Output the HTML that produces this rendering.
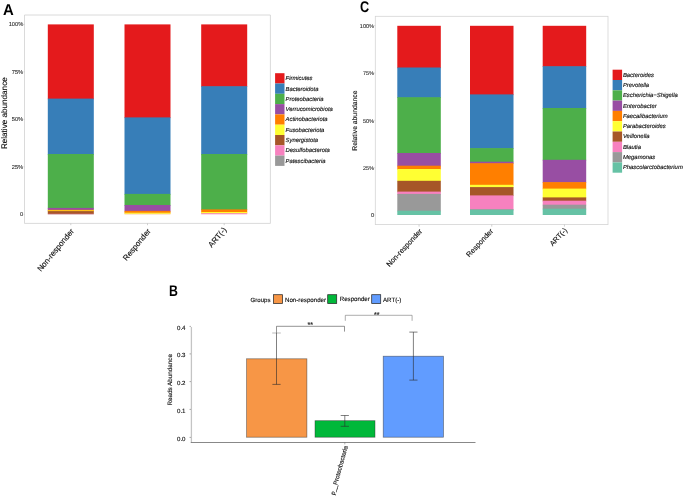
<!DOCTYPE html>
<html lang="en"><head><meta charset="utf-8"><title>Figure</title>
<style>html,body{margin:0;padding:0;background:#fff;}body{width:685px;height:497px;overflow:hidden;}svg{display:block;}text{font-family:"Liberation Sans",sans-serif;fill:#111;stroke:#111;stroke-width:0.14px;text-rendering:geometricPrecision;}.it{font-style:italic;}.b{font-weight:bold;fill:#000;stroke:none;}.ax{fill:#262626;stroke:#262626;stroke-width:0.08px;}</style></head><body>
<svg width="685" height="497" viewBox="0 0 685 497">
<rect width="685" height="497" fill="#fff"/>
<text class="b" transform="translate(2.9,15.4) scale(1,1.06)" font-size="14.9" stroke="#000" stroke-width="0.25">A</text>
<path d="M24.5 15.0H270.4V223.4H24.5Z" fill="none" stroke="#d0d0d0" stroke-width="0.8"/>
<text class="ax" x="23.2" y="26.3" font-size="5.7" text-anchor="end">100%</text>
<line x1="23.6" y1="24.4" x2="24.3" y2="24.4" stroke="#999" stroke-width="0.5"/>
<text class="ax" x="23.2" y="73.9" font-size="5.7" text-anchor="end">75%</text>
<line x1="23.6" y1="71.9" x2="24.3" y2="71.9" stroke="#999" stroke-width="0.5"/>
<text class="ax" x="23.2" y="121.4" font-size="5.7" text-anchor="end">50%</text>
<line x1="23.6" y1="119.4" x2="24.3" y2="119.4" stroke="#999" stroke-width="0.5"/>
<text class="ax" x="23.2" y="168.8" font-size="5.7" text-anchor="end">25%</text>
<line x1="23.6" y1="166.8" x2="24.3" y2="166.8" stroke="#999" stroke-width="0.5"/>
<text class="ax" x="23.2" y="216.2" font-size="5.7" text-anchor="end">0</text>
<line x1="23.6" y1="214.3" x2="24.3" y2="214.3" stroke="#999" stroke-width="0.5"/>
<text transform="translate(7.4,113.2) rotate(-90)" font-size="8.15" text-anchor="middle">Relative abundance</text>
<rect x="47.80" y="24.40" width="46.00" height="74.90" fill="#E41A1C"/>
<rect x="47.80" y="98.60" width="46.00" height="56.10" fill="#377EB8"/>
<rect x="47.80" y="154.00" width="46.00" height="54.60" fill="#4DAF4A"/>
<rect x="47.80" y="207.90" width="46.00" height="2.60" fill="#984EA3"/>
<rect x="47.80" y="209.80" width="46.00" height="1.40" fill="#FF7F00"/>
<rect x="47.80" y="210.50" width="46.00" height="1.30" fill="#FFFF33"/>
<rect x="47.80" y="211.10" width="46.00" height="3.10" fill="#A65628"/>
<rect x="47.80" y="213.80" width="46.00" height="0.40" fill="#F781BF"/>
<rect x="47.80" y="214.10" width="46.00" height="0.10" fill="#999999"/>
<rect x="124.50" y="24.40" width="46.00" height="93.70" fill="#E41A1C"/>
<rect x="124.50" y="117.40" width="46.00" height="77.20" fill="#377EB8"/>
<rect x="124.50" y="193.90" width="46.00" height="11.80" fill="#4DAF4A"/>
<rect x="124.50" y="205.00" width="46.00" height="6.60" fill="#984EA3"/>
<rect x="124.50" y="210.90" width="46.00" height="2.50" fill="#FF7F00"/>
<rect x="124.50" y="212.70" width="46.00" height="1.50" fill="#FFFF33"/>
<rect x="124.50" y="213.80" width="46.00" height="0.40" fill="#F781BF"/>
<rect x="201.20" y="24.40" width="46.00" height="62.50" fill="#E41A1C"/>
<rect x="201.20" y="86.20" width="46.00" height="68.50" fill="#377EB8"/>
<rect x="201.20" y="154.00" width="46.00" height="56.10" fill="#4DAF4A"/>
<rect x="201.20" y="209.40" width="46.00" height="3.30" fill="#FF7F00"/>
<rect x="201.20" y="212.00" width="46.00" height="1.90" fill="#FFFF33"/>
<rect x="201.20" y="213.20" width="46.00" height="1.10" fill="#F781BF"/>
<line x1="70.80" y1="223.4" x2="70.80" y2="225.2" stroke="#bbb" stroke-width="0.7"/>
<text transform="translate(74.40,231.40) rotate(-50.6)" font-size="7.9" text-anchor="end">Non-responder</text>
<line x1="147.50" y1="223.4" x2="147.50" y2="225.2" stroke="#bbb" stroke-width="0.7"/>
<text transform="translate(151.10,231.40) rotate(-50.6)" font-size="7.9" text-anchor="end">Responder</text>
<line x1="224.20" y1="223.4" x2="224.20" y2="225.2" stroke="#bbb" stroke-width="0.7"/>
<text transform="translate(226.80,229.90) rotate(-50.6)" font-size="7.9" text-anchor="end">ART(-)</text>
<rect x="275.1" y="73.20" width="9.4" height="10.3" fill="#E41A1C"/>
<text class="it" x="285.6" y="80.20" font-size="5.85">Firmicutes</text>
<rect x="275.1" y="83.50" width="9.4" height="10.3" fill="#377EB8"/>
<text class="it" x="285.6" y="90.50" font-size="5.85">Bacteroidota</text>
<rect x="275.1" y="93.80" width="9.4" height="10.3" fill="#4DAF4A"/>
<text class="it" x="285.6" y="100.80" font-size="5.85">Proteobacteria</text>
<rect x="275.1" y="104.10" width="9.4" height="10.3" fill="#984EA3"/>
<text class="it" x="285.6" y="111.10" font-size="5.85">Verrucomicrobiota</text>
<rect x="275.1" y="114.40" width="9.4" height="10.3" fill="#FF7F00"/>
<text class="it" x="285.6" y="121.40" font-size="5.85">Actinobacteriota</text>
<rect x="275.1" y="124.70" width="9.4" height="10.3" fill="#FFFF33"/>
<text class="it" x="285.6" y="131.70" font-size="5.85">Fusobacteriota</text>
<rect x="275.1" y="135.00" width="9.4" height="10.3" fill="#A65628"/>
<text class="it" x="285.6" y="142.00" font-size="5.85">Synergistota</text>
<rect x="275.1" y="145.30" width="9.4" height="10.3" fill="#F781BF"/>
<text class="it" x="285.6" y="152.30" font-size="5.85">Desulfobacterota</text>
<rect x="275.1" y="155.60" width="9.4" height="10.3" fill="#999999"/>
<text class="it" x="285.6" y="162.60" font-size="5.85">Patescibacteria</text>
<text class="b" transform="translate(360.0,12.1) scale(0.91,1.11)" font-size="14" stroke="#000" stroke-width="0.75">C</text>
<rect x="375.3" y="16.3" width="232.7" height="208.3" fill="none" stroke="#d4d4d4" stroke-width="0.8"/>
<text class="ax" x="374.0" y="27.9" font-size="5.55" text-anchor="end">100%</text>
<line x1="374.4" y1="25.6" x2="375.1" y2="25.6" stroke="#999" stroke-width="0.5"/>
<text class="ax" x="374.0" y="75.3" font-size="5.55" text-anchor="end">75%</text>
<line x1="374.4" y1="73.0" x2="375.1" y2="73.0" stroke="#999" stroke-width="0.5"/>
<text class="ax" x="374.0" y="122.6" font-size="5.55" text-anchor="end">50%</text>
<line x1="374.4" y1="120.3" x2="375.1" y2="120.3" stroke="#999" stroke-width="0.5"/>
<text class="ax" x="374.0" y="170.0" font-size="5.55" text-anchor="end">25%</text>
<line x1="374.4" y1="167.7" x2="375.1" y2="167.7" stroke="#999" stroke-width="0.5"/>
<text class="ax" x="374.0" y="217.3" font-size="5.55" text-anchor="end">0</text>
<line x1="374.4" y1="215.0" x2="375.1" y2="215.0" stroke="#999" stroke-width="0.5"/>
<text transform="translate(357.0,120.6) rotate(-90)" font-size="6.8" text-anchor="middle">Relative abundance</text>
<rect x="397.30" y="25.80" width="43.50" height="42.40" fill="#E41A1C"/>
<rect x="397.30" y="67.50" width="43.50" height="30.40" fill="#377EB8"/>
<rect x="397.30" y="97.20" width="43.50" height="56.50" fill="#4DAF4A"/>
<rect x="397.30" y="153.00" width="43.50" height="13.40" fill="#984EA3"/>
<rect x="397.30" y="165.70" width="43.50" height="4.00" fill="#FF7F00"/>
<rect x="397.30" y="169.00" width="43.50" height="12.50" fill="#FFFF33"/>
<rect x="397.30" y="180.80" width="43.50" height="11.50" fill="#A65628"/>
<rect x="397.30" y="191.60" width="43.50" height="3.00" fill="#F781BF"/>
<rect x="397.30" y="193.90" width="43.50" height="17.50" fill="#999999"/>
<rect x="397.30" y="210.70" width="43.50" height="4.30" fill="#66C2A5"/>
<rect x="470.00" y="25.80" width="43.50" height="69.30" fill="#E41A1C"/>
<rect x="470.00" y="94.40" width="43.50" height="54.40" fill="#377EB8"/>
<rect x="470.00" y="148.10" width="43.50" height="14.30" fill="#4DAF4A"/>
<rect x="470.00" y="161.70" width="43.50" height="2.20" fill="#984EA3"/>
<rect x="470.00" y="163.20" width="43.50" height="22.30" fill="#FF7F00"/>
<rect x="470.00" y="184.80" width="43.50" height="3.00" fill="#FFFF33"/>
<rect x="470.00" y="187.10" width="43.50" height="9.00" fill="#A65628"/>
<rect x="470.00" y="195.40" width="43.50" height="14.50" fill="#F781BF"/>
<rect x="470.00" y="209.20" width="43.50" height="1.20" fill="#999999"/>
<rect x="470.00" y="209.70" width="43.50" height="5.30" fill="#66C2A5"/>
<rect x="542.70" y="25.80" width="43.50" height="41.10" fill="#E41A1C"/>
<rect x="542.70" y="66.20" width="43.50" height="42.50" fill="#377EB8"/>
<rect x="542.70" y="108.00" width="43.50" height="52.50" fill="#4DAF4A"/>
<rect x="542.70" y="159.80" width="43.50" height="23.00" fill="#984EA3"/>
<rect x="542.70" y="182.10" width="43.50" height="7.20" fill="#FF7F00"/>
<rect x="542.70" y="188.60" width="43.50" height="9.50" fill="#FFFF33"/>
<rect x="542.70" y="197.40" width="43.50" height="4.00" fill="#A65628"/>
<rect x="542.70" y="200.70" width="43.50" height="4.70" fill="#F781BF"/>
<rect x="542.70" y="204.70" width="43.50" height="4.70" fill="#999999"/>
<rect x="542.70" y="208.70" width="43.50" height="6.30" fill="#66C2A5"/>
<line x1="419.05" y1="224.6" x2="419.05" y2="226.6" stroke="#bbb" stroke-width="0.7"/>
<text transform="translate(422.65,231.60) rotate(-47)" font-size="7.3" text-anchor="end">Non-responder</text>
<line x1="491.75" y1="224.6" x2="491.75" y2="226.6" stroke="#bbb" stroke-width="0.7"/>
<text transform="translate(493.65,231.40) rotate(-47)" font-size="7.3" text-anchor="end">Responder</text>
<line x1="564.45" y1="224.6" x2="564.45" y2="226.6" stroke="#bbb" stroke-width="0.7"/>
<text transform="translate(567.55,230.60) rotate(-47)" font-size="7.3" text-anchor="end">ART(-)</text>
<rect x="612.6" y="69.70" width="9.5" height="10.3" fill="#E41A1C"/>
<text class="it" x="622.9" y="76.60" font-size="5.9">Bacteroides</text>
<rect x="612.6" y="80.00" width="9.5" height="10.3" fill="#377EB8"/>
<text class="it" x="622.9" y="86.90" font-size="5.9">Prevotella</text>
<rect x="612.6" y="90.30" width="9.5" height="10.3" fill="#4DAF4A"/>
<text class="it" x="622.9" y="97.20" font-size="5.9">Escherichia−Shigella</text>
<rect x="612.6" y="100.60" width="9.5" height="10.3" fill="#984EA3"/>
<text class="it" x="622.9" y="107.50" font-size="5.9">Enterobacter</text>
<rect x="612.6" y="110.90" width="9.5" height="10.3" fill="#FF7F00"/>
<text class="it" x="622.9" y="117.80" font-size="5.9">Faecalibacterium</text>
<rect x="612.6" y="121.20" width="9.5" height="10.3" fill="#FFFF33"/>
<text class="it" x="622.9" y="128.10" font-size="5.9">Parabacteroides</text>
<rect x="612.6" y="131.50" width="9.5" height="10.3" fill="#A65628"/>
<text class="it" x="622.9" y="138.40" font-size="5.9">Veillonella</text>
<rect x="612.6" y="141.80" width="9.5" height="10.3" fill="#F781BF"/>
<text class="it" x="622.9" y="148.70" font-size="5.9">Blautia</text>
<rect x="612.6" y="152.10" width="9.5" height="10.3" fill="#999999"/>
<text class="it" x="622.9" y="159.00" font-size="5.9">Megamonas</text>
<rect x="612.6" y="162.40" width="9.5" height="10.3" fill="#66C2A5"/>
<text class="it" x="622.9" y="169.30" font-size="5.9">Phascolarctobacterium</text>
<text class="b" transform="translate(169.1,295.85) scale(0.88,1.10)" font-size="14" stroke="#000" stroke-width="0.75">B</text>
<text x="250.6" y="301.7" font-size="6.05">Groups</text>
<rect x="273.50" y="294.7" width="9" height="8.8" fill="#F79646" stroke="#2a2a2a" stroke-width="0.75"/>
<text x="285.0" y="301.7" font-size="6.17">Non-responder</text>
<rect x="327.70" y="294.7" width="9" height="8.8" fill="#00B83A" stroke="#2a2a2a" stroke-width="0.75"/>
<text x="339.7" y="301.3" font-size="6.17">Responder</text>
<rect x="371.70" y="294.7" width="9" height="8.8" fill="#619CFF" stroke="#2a2a2a" stroke-width="0.75"/>
<text x="383.0" y="301.7" font-size="6.17">ART(-)</text>
<path d="M191.4 327V443" fill="none" stroke="#c4c4c4" stroke-width="1.3"/><path d="M190.8 442.5H475.5" fill="none" stroke="#7a7a7a" stroke-width="0.9"/>
<text x="185.5" y="329.6" font-size="6.1" text-anchor="end">0.4</text>
<line x1="189.6" y1="326.4" x2="190.8" y2="326.4" stroke="#555" stroke-width="0.6"/>
<text x="185.5" y="357.1" font-size="6.1" text-anchor="end">0.3</text>
<line x1="189.6" y1="353.9" x2="190.8" y2="353.9" stroke="#555" stroke-width="0.6"/>
<text x="185.5" y="384.8" font-size="6.1" text-anchor="end">0.2</text>
<line x1="189.6" y1="381.6" x2="190.8" y2="381.6" stroke="#555" stroke-width="0.6"/>
<text x="185.5" y="412.6" font-size="6.1" text-anchor="end">0.1</text>
<line x1="189.6" y1="409.4" x2="190.8" y2="409.4" stroke="#555" stroke-width="0.6"/>
<text x="185.5" y="440.6" font-size="6.1" text-anchor="end">0.0</text>
<line x1="189.6" y1="437.4" x2="190.8" y2="437.4" stroke="#555" stroke-width="0.6"/>
<text transform="translate(171.7,379.8) rotate(-90)" font-size="6.3" text-anchor="middle">Reads Abundance</text>
<rect x="246.60" y="358.80" width="60.3" height="78.40" fill="#F79646" stroke="#2b2b2b" stroke-opacity="0.6" stroke-width="0.7"/>
<rect x="315.00" y="420.70" width="60.0" height="16.50" fill="#00B83A" stroke="#2b2b2b" stroke-opacity="0.6" stroke-width="0.7"/>
<rect x="383.20" y="356.20" width="60.3" height="81.00" fill="#619CFF" stroke="#2b2b2b" stroke-opacity="0.6" stroke-width="0.7"/>
<path d="M272.2 333.0H280.8" fill="none" stroke="#c2c2c2" stroke-width="1.1"/>
<path d="M276.5 332.6V384.4M272.4 384.4H280.6" fill="none" stroke="#2a2a2a" stroke-width="0.6"/>
<path d="M340.7 415.5H348.90000000000003" fill="none" stroke="#2a2a2a" stroke-width="0.6"/>
<path d="M344.8 415.5V426.3M340.7 426.3H348.90000000000003" fill="none" stroke="#2a2a2a" stroke-width="0.6"/>
<path d="M409.29999999999995 332.1H417.5" fill="none" stroke="#2a2a2a" stroke-width="0.6"/>
<path d="M413.4 332.1V380.1M409.29999999999995 380.1H417.5" fill="none" stroke="#2a2a2a" stroke-width="0.6"/>
<path d="M276.5 332.6V326.3H344.5V331.6" fill="none" stroke="#3a3a3a" stroke-width="0.55"/>
<path d="M345.3 320.8V315.3H412.1V320.8" fill="none" stroke="#6a6a6a" stroke-width="0.55"/>
<text x="310.2" y="326.8" font-size="7" text-anchor="middle">**</text>
<text x="376.7" y="316.6" font-size="7" text-anchor="middle">**</text>
<line x1="344.8" y1="442.4" x2="344.8" y2="444.4" stroke="#666" stroke-width="0.5"/>
<text transform="translate(347.9,446.4) rotate(-74.5)" font-size="6.2" text-anchor="end">p__Proteobacteria</text>
</svg></body></html>
